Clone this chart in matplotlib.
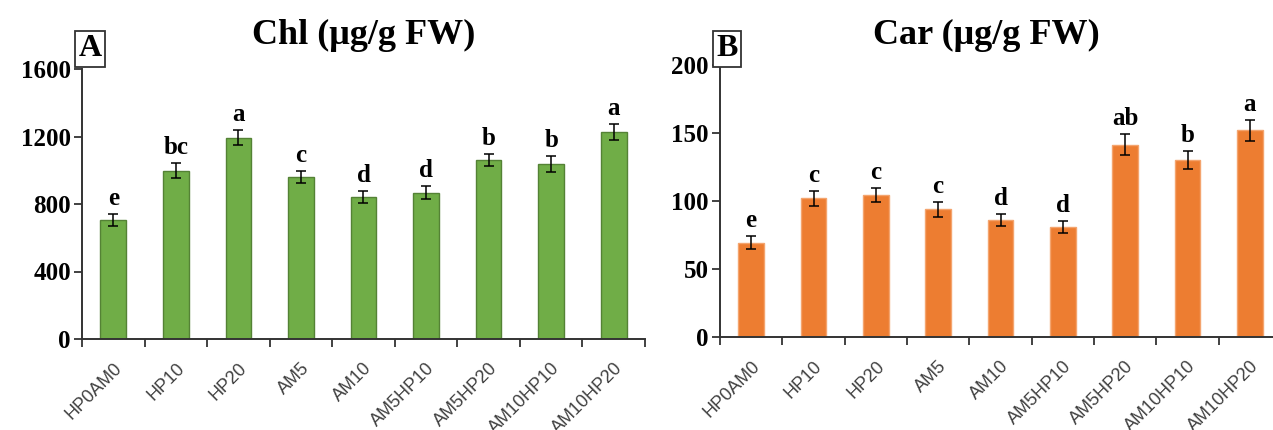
import numpy as np
import matplotlib.pyplot as plt

groups = ["HP0AM0", "HP10", "HP20", "AM5", "AM10", "AM5HP10", "AM5HP20", "AM10HP10", "AM10HP20"]

chl_mean = [703, 998, 1193, 961, 840, 868, 1063, 1035, 1228]
chl_err = [35, 43, 43, 35, 36, 37, 35, 48, 46]
chl_letters = ["e", "bc", "a", "c", "d", "d", "b", "b", "a"]

car_mean = [69.4, 102.0, 104.4, 93.8, 85.7, 81.0, 141.5, 129.9, 151.9]
car_err = [4.5, 5.4, 5.4, 5.7, 4.4, 4.4, 7.6, 6.6, 7.9]
car_letters = ["e", "c", "c", "c", "d", "d", "ab", "b", "a"]

serif = "Liberation Serif"
W, H = 1273, 430

fig = plt.figure(figsize=(W / 100, H / 100), dpi=100)


def panel(rect, means, errs, letters, ymax, step, color, edge, title, title_x, tag, tag_x):
    ax = fig.add_axes(rect)
    x = np.arange(len(groups))
    ax.bar(x, means, width=0.41, color=color, edgecolor=edge, linewidth=1.0, zorder=2)
    ax.errorbar(x, means, yerr=errs, fmt="none", ecolor="black", elinewidth=1.1,
                capsize=3.6, capthick=1.1, zorder=3)
    for xi, m, e, t in zip(x, means, errs, letters):
        ax.annotate(t, (xi, m + e), xytext=(0, 3), textcoords="offset points",
                    ha="center", va="bottom", fontsize=18, fontweight="bold", family=serif)

    ax.set_xlim(-0.5, len(groups) - 0.5)
    ax.set_ylim(0, ymax)
    ax.set_yticks(np.arange(0, ymax + 1, step))
    ax.set_xticks(x)
    ax.set_xticklabels(groups, rotation=45, ha="right", rotation_mode="anchor",
                       fontsize=13, color="#404040", family="Liberation Sans")
    ax.set_xticks(np.arange(-0.5, len(groups), 1), minor=True)
    ax.tick_params(axis="x", which="major", length=0, pad=15)
    ax.tick_params(axis="x", which="minor", length=6, width=1.3, color="#333333")
    ax.tick_params(axis="y", length=6, width=1.3, color="#333333", pad=2)
    for lab in ax.get_yticklabels():
        lab.set_fontsize(18)
        lab.set_fontweight("bold")
        lab.set_family(serif)
    for s in ["top", "right"]:
        ax.spines[s].set_visible(False)
    for s in ["left", "bottom"]:
        ax.spines[s].set_linewidth(1.4)
        ax.spines[s].set_color("#333333")

    fig.text(title_x / W, 1 - 35 / H, title, ha="center", va="center",
             fontsize=26, fontweight="bold", family=serif)
    fig.text(tag_x / W, 1 - 49 / H, tag, ha="center", va="center",
             fontsize=23, fontweight="bold", family=serif,
             bbox=dict(boxstyle="square,pad=0.1", facecolor="white",
                       edgecolor="#333333", linewidth=1.3))
    return ax


panel([82 / W, 1 - 339 / H, 563 / W, 270 / H], chl_mean, chl_err, chl_letters,
      1600, 400, "#70AD47", "#548235", "Chl (μg/g FW)", 364, "A", 90)
panel([720 / W, 1 - 337 / H, 561 / W, 272 / H], car_mean, car_err, car_letters,
      200, 50, "#ED7D31", "#F4A46E", "Car (μg/g FW)", 986, "B", 727)

fig.savefig("out.png", dpi=100)
